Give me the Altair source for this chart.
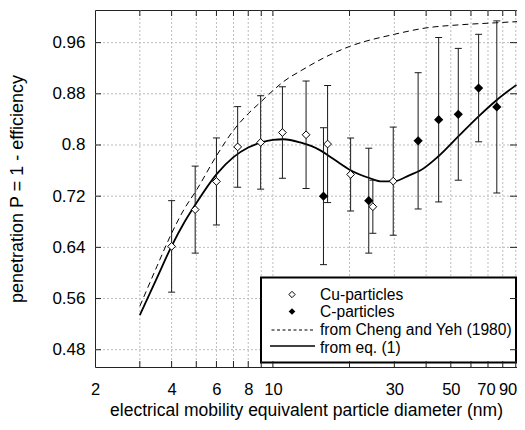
import altair as alt
import pandas as pd

# ---------------- data ----------------
cu_d = [4.0, 4.95, 6.0, 7.27, 8.95, 10.9, 13.5, 16.4, 20.2, 24.7, 29.7]
cu_p = [0.6415, 0.699, 0.743, 0.797, 0.804, 0.8195, 0.816, 0.8015, 0.754, 0.7035, 0.7435]
cu_e = [0.0715, 0.068, 0.068, 0.063, 0.073, 0.0715, 0.084, 0.0915, 0.057, 0.0415, 0.0845]

c_d = [15.8, 23.8, 37.2, 44.8, 53.5, 64.3, 75.8]
c_p = [0.720, 0.713, 0.8065, 0.8395, 0.848, 0.889, 0.8595]
c_e = [0.107, 0.082, 0.1065, 0.1285, 0.103, 0.084, 0.1345]

eq_d = [3.0, 3.5, 4.0, 4.5, 5.0, 6.0, 7.0, 8.0, 9.0, 10.0, 11.0, 12.8, 15.3, 17.3,
        20.1, 24.1, 26.8, 29.7, 34.5, 37.9, 44.6, 53.4, 64.0, 75.6, 90.6]
eq_p = [0.534, 0.592, 0.642, 0.680, 0.709, 0.754, 0.781, 0.796, 0.804, 0.808, 0.809,
        0.804, 0.792, 0.778, 0.761, 0.748, 0.743, 0.743, 0.753, 0.760, 0.782, 0.813,
        0.844, 0.870, 0.894]

cy_d = [3.0, 3.5, 4.0, 4.5, 5.0, 6.0, 7.0, 8.0, 9.0, 10.0, 11.0, 13.0, 16.0, 20.0,
        30.0, 40.0, 55.0, 75.0, 93.0]
cy_p = [0.548, 0.610, 0.662, 0.701, 0.729, 0.783, 0.823, 0.849, 0.868, 0.885, 0.899,
        0.917, 0.937, 0.954, 0.973, 0.983, 0.988, 0.991, 0.993]

x_labels = [2, 4, 6, 8, 10, 30, 50, 70, 90]
x_grid = [3, 4, 5, 6, 7, 8, 9, 10, 20, 30, 40, 50, 60, 70, 80, 90]
y_labels = [0.48, 0.56, 0.64, 0.72, 0.80, 0.88, 0.96]

legend_labels = ["Cu-particles", "C-particles", "from Cheng and Yeh (1980)", "from eq. (1)"]
x_title = "electrical mobility equivalent particle diameter (nm)"
y_title = "penetration P = 1 - efficiency"

# ---------------- tables ----------------
cu = pd.DataFrame({"d": cu_d, "p": cu_p, "e": cu_e})
cu["lo"] = cu["p"] - cu["e"]
cu["hi"] = cu["p"] + cu["e"]
cc = pd.DataFrame({"d": c_d, "p": c_p, "e": c_e})
cc["lo"] = cc["p"] - cc["e"]
cc["hi"] = cc["p"] + cc["e"]
eq = pd.DataFrame({"d": eq_d, "p": eq_p})
cy = pd.DataFrame({"d": cy_d, "p": cy_p})
xg = pd.DataFrame({"d": x_grid})
yg = pd.DataFrame({"p": y_labels})
one = pd.DataFrame({"a": [0]})

W, H = 422, 357
FONT = "Liberation Sans"
xs = alt.Scale(type="log", domain=[2, 91])
ys = alt.Scale(domain=[0.453, 1.011], zero=False)

last_lab = "datum.value == %d" % x_labels[-1]
prev_lab = "datum.value == %d" % x_labels[-2]
xaxis = alt.Axis(values=x_labels, title=x_title, grid=False, tickSize=0, domain=False,
                 labelPadding=14, labelFlush=False, labelOverlap=False, titlePadding=4,
                 labelAlign={"condition": {"test": last_lab, "value": "right"}, "value": "center"},
                 labelOffset={"condition": [{"test": last_lab, "value": 1},
                                            {"test": prev_lab, "value": -2}], "value": 0},
                 labelFontSize=16.5, titleFontSize=17.5)
yaxis = alt.Axis(values=y_labels, title=y_title, grid=False, tickSize=0, domain=False,
                 labelPadding=10, labelExpr="format(datum.value, '.2~f')",
                 labelOverlap=False, titlePadding=25,
                 labelFontSize=17, titleFontSize=18)

GRID = "#bdbdbd"


def X(f, **kw):
    return alt.X(f, scale=xs, axis=xaxis, **kw)


def Y(f, **kw):
    return alt.Y(f, scale=ys, axis=yaxis, **kw)


# grid
grid_x = alt.Chart(xg).mark_rule(color=GRID, strokeDash=[2, 2], strokeWidth=1).encode(x=X("d:Q"))
grid_y = alt.Chart(yg).mark_rule(color=GRID, strokeDash=[2, 2], strokeWidth=1).encode(y=Y("p:Q"))

# curves
dashed = alt.Chart(cy).mark_line(color="black", strokeWidth=1, strokeDash=[6, 4],
                                 interpolate="monotone", clip=True).encode(x=X("d:Q"), y=Y("p:Q"))
solid = alt.Chart(eq).mark_line(color="black", strokeWidth=1.8,
                                interpolate="monotone", clip=True).encode(x=X("d:Q"), y=Y("p:Q"))


# error bars
def errbars(df):
    bar = alt.Chart(df).mark_rule(color="#1a1a1a", strokeWidth=1).encode(
        x=X("d:Q"), y=Y("lo:Q"), y2="hi:Q")
    cap_lo = alt.Chart(df).mark_tick(orient="horizontal", size=7, thickness=1,
                                     color="#1a1a1a", opacity=1).encode(x=X("d:Q"), y=Y("lo:Q"))
    cap_hi = alt.Chart(df).mark_tick(orient="horizontal", size=7, thickness=1,
                                     color="#1a1a1a", opacity=1).encode(x=X("d:Q"), y=Y("hi:Q"))
    return bar + cap_lo + cap_hi


c_pts = alt.Chart(cc).mark_point(shape="diamond", filled=True, color="black", size=85,
                                 opacity=1).encode(x=X("d:Q"), y=Y("p:Q"))
cu_pts = alt.Chart(cu).mark_point(shape="diamond", filled=True, fill="white", stroke="black",
                                  strokeWidth=1, size=60, opacity=1).encode(x=X("d:Q"), y=Y("p:Q"))

# legend (drawn inside the plot area)
leg_box = alt.Chart(one).mark_rect(fill="white", stroke="black", strokeWidth=2).encode(
    x=alt.value(166), x2=alt.value(421), y=alt.value(267.5), y2=alt.value(352.5))
leg_cu = alt.Chart(one).mark_point(shape="diamond", filled=True, fill="white", stroke="black",
                                   strokeWidth=1, size=40, opacity=1).encode(
    x=alt.value(197), y=alt.value(284.5))
leg_c = alt.Chart(one).mark_point(shape="diamond", filled=True, color="black", size=45,
                                  opacity=1).encode(x=alt.value(197), y=alt.value(301.5))
leg_dash = alt.Chart(one).mark_rule(color="black", strokeWidth=1, strokeDash=[3, 2.5]).encode(
    x=alt.value(176.5), x2=alt.value(218.5), y=alt.value(320))
leg_solid = alt.Chart(one).mark_rule(color="black", strokeWidth=1.3).encode(
    x=alt.value(175), x2=alt.value(220), y=alt.value(336))
leg_y = [285, 302, 320, 337.5]
leg_txt = [alt.Chart(one).mark_text(text=t, align="left", baseline="middle", font=FONT,
                                    fontSize=15.6, color="black").encode(
    x=alt.value(225), y=alt.value(yy)) for t, yy in zip(legend_labels, leg_y)]

# inward ticks on all four sides
tk = "#222222"
t_bottom = alt.Chart(xg).mark_rule(color=tk, strokeWidth=1).encode(
    x=X("d:Q"), y=alt.value(H), y2=alt.value(H - 6))
t_top = alt.Chart(xg).mark_rule(color=tk, strokeWidth=1).encode(
    x=X("d:Q"), y=alt.value(0), y2=alt.value(6))
t_left = alt.Chart(yg).mark_rule(color=tk, strokeWidth=1).encode(
    y=Y("p:Q"), x=alt.value(0), x2=alt.value(6))
t_right = alt.Chart(yg).mark_rule(color=tk, strokeWidth=1).encode(
    y=Y("p:Q"), x=alt.value(W), x2=alt.value(W - 7))

layers = [grid_x, grid_y, dashed, solid, errbars(cc), errbars(cu), c_pts, cu_pts,
          leg_box, leg_cu, leg_c, leg_dash, leg_solid] + leg_txt + [t_bottom, t_top, t_left, t_right]

chart = alt.layer(*layers).properties(
    width=W, height=H,
    autosize=alt.AutoSizeParams(type="none"),
    padding={"left": 87, "top": 2, "right": 0, "bottom": 55},
    background="white",
).configure_view(stroke="#222222", strokeWidth=1).configure_axis(
    labelFont=FONT, titleFont=FONT, labelColor="black", titleColor="black",
    titleFontWeight="normal")

chart.save("out.html", embed_options={"renderer": "svg", "actions": False})
